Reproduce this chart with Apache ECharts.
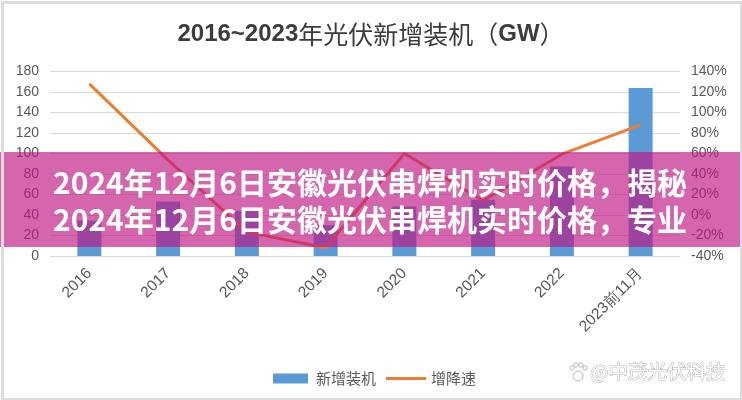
<!DOCTYPE html>
<html><head><meta charset="utf-8">
<script src="https://cdn.jsdelivr.net/npm/echarts@6/dist/echarts.min.js"></script>
<style>html,body{margin:0;padding:0;background:#fff}#c{width:742px;height:400px}</style>
</head><body><div id="c"></div>
<script>
const categories = ['2016','2017','2018','2019','2020','2021','2022','2023前11月'];
const installs = [34.54, 53.06, 44.26, 30.11, 48.2, 54.88, 87.41, 163.88];
const growth = [128, 53.6, -16.6, -32, 60, 13.9, 59.3, 88];
const leftTicks = {min: 0, max: 180, interval: 20};
const rightTicks = {min: -40, max: 140, interval: 20};
const overlayLines = ['2024年12月6日安徽光伏串焊机实时价格，揭秘', '2024年12月6日安徽光伏串焊机实时价格，专业'];

const chart = echarts.init(document.getElementById('c'));
const lbl = {color: '#595959', fontSize: 14, fontFamily: 'Liberation Sans'};
chart.setOption({
  backgroundColor: '#fff',
  animation: false,
  title: {
    text: '{a|2016~2023}{b|年光伏新增装机（}{a|GW}{b|）}',
    left: 'center', top: 17,
    textStyle: {
      rich: {
        a: {fontSize: 24, fontWeight: 'bold', color: '#3c3c3c', fontFamily: 'Liberation Sans'},
        b: {fontSize: 25, fontWeight: 'normal', color: '#3c3c3c', fontFamily: 'Noto Sans CJK SC'}
      }
    }
  },
  grid: {left: 50, right: 62, top: 71.5, bottom: 144},
  legend: [
    {data: ['新增装机'], left: 268, top: 366, itemWidth: 35, itemHeight: 10, icon: 'rect',
     textStyle: {color: '#595959', fontSize: 15, fontFamily: 'Noto Sans CJK SC', padding: [0,0,0,3]}},
    {data: ['增降速'], left: 381, top: 366, itemWidth: 40, itemHeight: 3, icon: 'rect',
     textStyle: {color: '#595959', fontSize: 15, fontFamily: 'Noto Sans CJK SC'}}
  ],
  xAxis: {
    type: 'category', data: categories,
    axisLine: {lineStyle: {color: '#d9d9d9', width: 1}},
    axisTick: {show: false},
    axisLabel: Object.assign({}, lbl, {rotate: 45, margin: 15, interval: 0, fontSize: 15.5})
  },
  yAxis: [
    {type: 'value', min: leftTicks.min, max: leftTicks.max, interval: leftTicks.interval,
     axisLabel: Object.assign({margin: 11}, lbl),
     axisLine: {show: false}, axisTick: {show: false},
     splitLine: {lineStyle: {color: '#d9d9d9', width: 1}}},
    {type: 'value', min: rightTicks.min, max: rightTicks.max, interval: rightTicks.interval,
     axisLabel: Object.assign({margin: 11, formatter: '{value}%'}, lbl),
     axisLine: {show: false}, axisTick: {show: false},
     splitLine: {show: false}}
  ],
  series: [
    {name: '新增装机', type: 'bar', data: installs, barWidth: 24,
     itemStyle: {color: '#5b9bd5'}},
    {name: '增降速', type: 'line', yAxisIndex: 1, data: growth, symbol: 'none',
     lineStyle: {color: '#ed7d31', width: 3}, itemStyle: {color: '#ed7d31'}}
  ],
  graphic: [
    {type: 'rect', left: 0, top: 0, z: 200, silent: true,
     shape: {x: 1.5, y: 1.5, width: 739, height: 397}, style: {fill: 'none', stroke: '#dcdcdc', lineWidth: 3}},
    {type: 'rect', z: 100, silent: true,
     shape: {x: 0, y: 152, width: 742, height: 95}, style: {fill: 'rgba(190,20,130,0.65)'}},
    {type: 'text', z: 101, x: 53, y: 183, silent: true,
     style: {text: overlayLines[0], fill: '#fff', fontSize: 30, fontWeight: 'bold', fontFamily: 'Noto Sans CJK SC', textVerticalAlign: 'middle'}},
    {type: 'text', z: 101, x: 53, y: 220, silent: true,
     style: {text: overlayLines[1], fill: '#fff', fontSize: 30, fontWeight: 'bold', fontFamily: 'Noto Sans CJK SC', textVerticalAlign: 'middle'}},
    {type: 'group', z: 100, silent: true, children: [
      {type: 'circle', shape: {cx: 578, cy: 376, r: 5}, style: {fill: '#fff', stroke: '#b8b8b8', lineWidth: 1}},
      {type: 'circle', shape: {cx: 572, cy: 368, r: 2.2}, style: {fill: '#fff', stroke: '#b8b8b8', lineWidth: 1}},
      {type: 'circle', shape: {cx: 576, cy: 365, r: 2.2}, style: {fill: '#fff', stroke: '#b8b8b8', lineWidth: 1}},
      {type: 'circle', shape: {cx: 581, cy: 365, r: 2.2}, style: {fill: '#fff', stroke: '#b8b8b8', lineWidth: 1}},
      {type: 'circle', shape: {cx: 585, cy: 368, r: 2.2}, style: {fill: '#fff', stroke: '#b8b8b8', lineWidth: 1}}
    ]},
    {type: 'text', z: 100, x: 590, y: 372, silent: true,
     style: {text: '@中茂光伏科技', fill: '#fff', stroke: '#b0b0b0', lineWidth: 1, fontSize: 19.5, fontFamily: 'Noto Sans CJK SC', textVerticalAlign: 'middle'}}
  ]
});
</script></body></html>
